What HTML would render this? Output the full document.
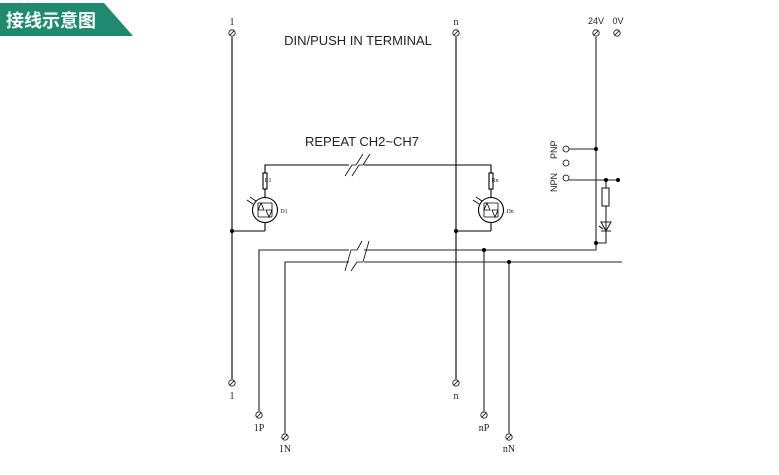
<!DOCTYPE html>
<html><head><meta charset="utf-8"><style>
body{margin:0;background:#fff;width:779px;height:475px;overflow:hidden}
svg{display:block}
</style></head><body>
<svg width="779" height="475" xmlns="http://www.w3.org/2000/svg" font-family="Liberation Serif, serif">
<polygon points="0,3 104,3 133,36 0,36" fill="#1f8a6e"/>
<text x="6" y="27" fill="#fff" font-size="18" font-weight="bold" font-family="Liberation Sans, Noto Sans CJK SC, sans-serif">接线示意图</text>

<g stroke="#000" stroke-width="1.1" fill="none">
<line x1="232" y1="37" x2="232" y2="379"/>
<line x1="232" y1="231" x2="265" y2="231"/>
<line x1="265" y1="231" x2="265" y2="223"/>
<polyline points="265,173 265,165 491,165 491,173"/>
<line x1="456" y1="37" x2="456" y2="379"/>
<line x1="456" y1="231" x2="491" y2="231"/>
<line x1="491" y1="231" x2="491" y2="223"/>
<rect x="263" y="173" width="4" height="16" fill="#fff"/>
<rect x="489" y="173" width="4" height="16" fill="#fff"/>
<line x1="265" y1="189" x2="265" y2="197"/>
<line x1="491" y1="189" x2="491" y2="197"/>
<circle cx="265" cy="210" r="12.5"/>
<circle cx="491" cy="210" r="12.5"/>
</g>
<g stroke="#000" stroke-width="0.8" fill="none">
<path d="M258,203 H272 M258,217 H272 M261,203 L258,210 H264 Z M269,217 L266,210 H272 Z M258,203 V217 M272,203 V217"/>
<path d="M484,203 H498 M484,217 H498 M487,203 L484,210 H490 Z M495,217 L492,210 H498 Z M484,203 V217 M498,203 V217"/>
<path d="M247,200 L253,204 M250,197 L256,201"/>
<path d="M473,200 L479,204 M476,197 L482,201"/>
</g>
<g stroke="#222" stroke-width="1.1" fill="none">
<polyline points="259,411 259,250 596,250 596,37"/>
<line x1="484" y1="250" x2="484" y2="411"/>
<polyline points="285,433 285,262 622,262"/>
<line x1="509" y1="262" x2="509" y2="433"/>
<line x1="569" y1="149" x2="596" y2="149"/>
<line x1="569" y1="180" x2="618" y2="180"/>
<polyline points="606,180 606,243 596,243"/>
<rect x="602" y="188" width="7" height="18" fill="#fff"/>
<path d="M601,222 H611 L606,231 Z M601,231 H611 M599,226 L603,229"/>
</g>
<g stroke="#fff" stroke-width="6">
<line x1="349" y1="165" x2="364" y2="165"/>
<line x1="349" y1="250" x2="364" y2="250"/>
<line x1="349" y1="262" x2="364" y2="262"/>
</g>
<g stroke="#000" stroke-width="0.8" fill="none">
<path d="M345,176 L352,165 H356 M363,154 L356,165 M352,176 L359,165 H363 M370,154 L363,165"/>
<path d="M345,271 L351,250 H357 M362,241 L357,250 M351,271 L357,262 H363 M369,241 L363,262"/>
</g>
<g fill="#000">
<circle cx="232" cy="231" r="2"/><circle cx="456" cy="231" r="2"/>
<circle cx="484" cy="250" r="2"/><circle cx="509" cy="262" r="2"/>
<circle cx="596" cy="149" r="2"/><circle cx="606" cy="180" r="2"/><circle cx="618" cy="180" r="2"/>
<circle cx="596" cy="243" r="2"/>
</g>
<g stroke="#000" stroke-width="0.8" fill="#fff">
<circle cx="232" cy="33" r="3.2"/><circle cx="456" cy="33" r="3.2"/>
<circle cx="596" cy="33" r="3.2"/><circle cx="617" cy="33" r="3.2"/>
<circle cx="232" cy="383" r="3.2"/><circle cx="456" cy="383" r="3.2"/>
<circle cx="259" cy="415" r="3.2"/><circle cx="484" cy="415" r="3.2"/>
<circle cx="285" cy="437" r="3.2"/><circle cx="509" cy="437" r="3.2"/>
<circle cx="566" cy="149" r="3"/><circle cx="566" cy="163" r="3"/><circle cx="566" cy="178" r="3"/>
</g>
<g stroke="#000" stroke-width="0.8">
<path d="M230,35 L234,31 M454,35 L458,31 M594,35 L598,31 M615,35 L619,31 M230,385 L234,381 M454,385 L458,381 M257,417 L261,413 M482,417 L486,413 M283,439 L287,435 M507,439 L511,435"/>
</g>
<g font-size="10" text-anchor="middle" fill="#222">
<text x="232" y="25">1</text><text x="456" y="25">n</text>
<text x="232" y="399">1</text><text x="456" y="399">n</text>
<text x="259" y="431">1P</text><text x="484" y="431">nP</text>
<text x="285" y="452">1N</text><text x="509" y="452">nN</text>
<text x="268" y="182" font-size="6">R1</text><text x="495" y="182" font-size="6">Rn</text>
<text x="284" y="213" font-size="6">D1</text><text x="510" y="213" font-size="6">Dn</text>
</g>
<g font-family="Liberation Sans, sans-serif" fill="#222">
<text x="596" y="24" font-size="9" text-anchor="middle">24V</text>
<text x="618" y="24" font-size="9" text-anchor="middle">0V</text>
<text x="358" y="45" font-size="13" text-anchor="middle">DIN/PUSH IN TERMINAL</text>
<text x="362" y="146" font-size="13" text-anchor="middle">REPEAT CH2~CH7</text>
<text transform="translate(557,159) rotate(-90)" font-size="9">PNP</text>
<text transform="translate(557,192) rotate(-90)" font-size="9">NPN</text>
</g>
</svg>
</body></html>
